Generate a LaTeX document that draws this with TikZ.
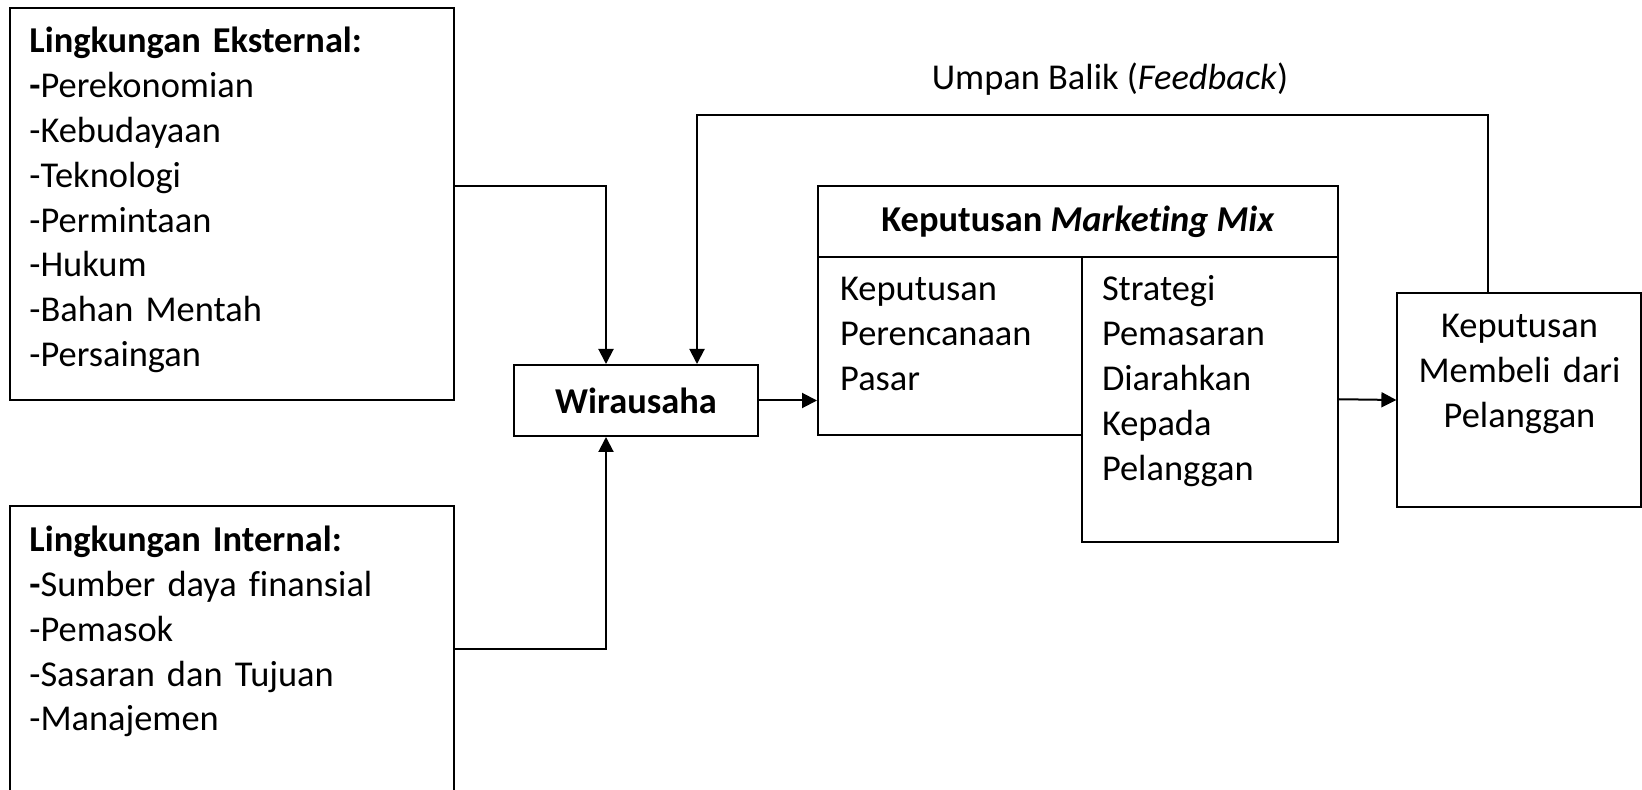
\documentclass[tikz,border=0pt]{standalone}
\usepackage{fontspec}
\setmainfont{Carlito}[Ligatures={TeX,NoCommon}]
\usetikzlibrary{arrows.meta,positioning,calc}
\tikzset{box/.style={draw,line width=1pt,rectangle,inner sep=0pt},
 txt/.style={inner sep=0pt,text width=210pt,align=left,anchor=base west},
 arr/.style={-{Triangle[length=7.5pt,width=7.5pt]},line width=1pt}}

\begin{document}
\begin{tikzpicture}[x=.5pt,y=-.5pt,font=\fontsize{18.2}{22.4}\selectfont]
\useasboundingbox (0,0) rectangle (1642,790);
% kotak-kotak
\node[box,minimum width=222pt,minimum height=196pt] (ext) at (232,204) {};
\node[box,minimum width=222pt,minimum height=143pt] (int) at (232,649) {};
\node[box,minimum width=122pt,minimum height=35.5pt] (wir) at (636,400.5) {\textbf{Wirausaha}};
\node[box,minimum width=260pt,minimum height=35.5pt] (mmHead) at (1078,221.5) {\textbf{Keputusan \textit{Marketing Mix}}};
\node[box,minimum width=132pt,minimum height=89pt] (mmLeft) at (950,346) {};
\node[box,minimum width=128pt,minimum height=142.25pt] (mmRight) at (1210,399.25) {};
\node[box,minimum width=121.6pt,minimum height=106.7pt] (beli) at (1519,400) {};
% isi teks
\node[txt] (extTxt) at (29,53) {\textbf{Lingkungan Eksternal:}\\\textbf{-}Perekonomian\\-Kebudayaan\\-Teknologi\\-Permintaan\\-Hukum\\-Bahan Mentah\\-Persaingan};
\node[txt] (intTxt) at (29,551.7) {\textbf{Lingkungan Internal:}\\\textbf{-}Sumber daya finansial\\-Pemasok\\-Sasaran dan Tujuan\\-Manajemen};
\node[txt,text width=115pt] (leftTxt) at (839.8,301) {Keputusan\\Perencanaan\\Pasar};
\node[txt,text width=115pt] (rightTxt) at (1101.6,301) {Strategi\\Pemasaran\\Diarahkan\\Kepada\\Pelanggan};
\node[txt,text width=115pt,align=center,anchor=base] (beliTxt) at (1519.5,338) {Keputusan\\Membeli dari\\Pelanggan};
\node[inner sep=0pt,anchor=base] (fbLabel) at (1110,90) {Umpan Balik (\textit{Feedback})};
\coordinate (fbTop) at (1100,115);
% panah
\draw[arr] ([yshift=9pt]ext.east) -| ([xshift=-15pt]wir.north);
\draw[arr] (int.east) -| ([xshift=-15pt]wir.south);
\draw[arr] (wir.east) -- (wir.east -| mmLeft.west);
\draw[arr] (mmRight.east) -- (beli.west);
\draw[arr] ([xshift=-15.5pt]beli.north) |- (fbTop) -| ([xshift=30.5pt]wir.north);
\end{tikzpicture}
\end{document}
